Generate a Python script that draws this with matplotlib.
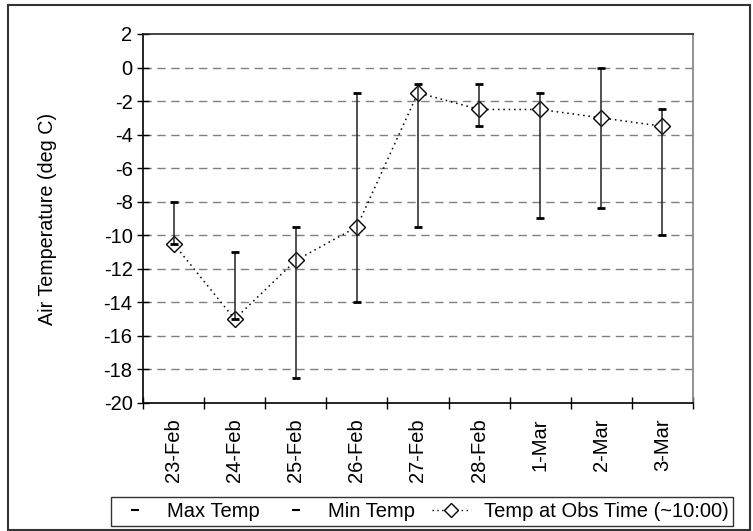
import matplotlib.pyplot as plt
from matplotlib.lines import Line2D
from matplotlib.patches import Rectangle
import numpy as np

plt.rcParams['font.family'] = ['Liberation Sans', 'DejaVu Sans']
plt.rcParams['axes.unicode_minus'] = False

# daily values (deg C)
dates = ['23-Feb', '24-Feb', '25-Feb', '26-Feb', '27-Feb', '28-Feb', '1-Mar', '2-Mar', '3-Mar']
max_temp = [-8, -11, -9.5, -1.5, -1, -1, -1.5, 0, -2.5]
min_temp = [-10.5, -15, -18.5, -14, -9.5, -3.5, -9, -8.4, -10]
obs_temp = [-10.5, -15, -11.5, -9.5, -1.5, -2.5, -2.5, -3, -3.5]

x = np.arange(len(dates))

fig = plt.figure(figsize=(7.53, 5.31), dpi=100)
ax = fig.add_axes([143/753, 1-403/531, 550/753, 369/531])

# obs temp, dotted with open diamonds
ax.plot(x, obs_temp, linestyle=(0, (1, 2.5)), color='black', lw=1.1, zorder=3)
ax.plot(x, obs_temp, linestyle='none', marker='D', markersize=8.5,
        markerfacecolor='white', markeredgecolor='black', markeredgewidth=1, zorder=4)

# high-low lines + max/min dash markers
ax.vlines(x, min_temp, max_temp, color='#222222', lw=1.1, zorder=5)
ax.plot(x, max_temp, linestyle='none', marker='_', markersize=6, mew=2, color='black', zorder=6)
ax.plot(x, min_temp, linestyle='none', marker='_', markersize=6, mew=2, color='black', zorder=6)

ax.set_xlim(-0.5, len(dates) - 0.5)
ax.set_ylim(-20, 2)
ax.set_yticks(np.arange(-20, 3, 2))
ax.set_xticks(np.arange(-0.5, len(dates), 1.0))
ax.set_xticklabels([])
ax.set_xticks(x, minor=True)
ax.set_xticklabels(dates, minor=True, rotation=90, fontsize=14.5)
ax.tick_params(axis='x', which='minor', length=0, pad=11)
ax.tick_params(axis='x', which='major', direction='inout', length=9, width=1)
ax.tick_params(axis='y', direction='inout', length=9, width=1, labelsize=14.5, pad=3)

for v in np.arange(-18, 1, 2):
    ax.axhline(v, color='#808080', lw=1, linestyle=(0, (6, 4)), zorder=1)

ax.spines['left'].set_color('black')
ax.spines['bottom'].set_color('black')
ax.spines['top'].set_color('#222222')
ax.spines['right'].set_color('#808080')
for s in ax.spines.values():
    s.set_linewidth(1.2)

ax.set_ylabel('Air Temperature (deg C)', fontsize=14.2)
ax.yaxis.set_label_coords(-0.156, 0.5)

handles = [
    Line2D([], [], linestyle='none', marker='_', markersize=6, mew=1.5, color='black'),
    Line2D([], [], linestyle='none', marker='_', markersize=6, mew=1.5, color='black'),
    Line2D([], [], linestyle=(0, (1, 2.5)), color='black', lw=1, marker='D', markersize=7,
           markerfacecolor='white', markeredgecolor='black'),
]
leg = fig.legend(handles, ['Max Temp', 'Min Temp', 'Temp at Obs Time (~10:00)'],
                 ncol=3, loc='center', bbox_to_anchor=((108+736)/2/753, 1-(496+527)/2/531),
                 fontsize=14.5, frameon=True, fancybox=False, handlelength=1.9,
                 columnspacing=0.85, handletextpad=0.65, borderpad=0.25)
leg.get_frame().set_edgecolor('black')
leg.get_frame().set_linewidth(1)

# outer chart frame
fig.patches.append(Rectangle((8/753, 1-530/531), 742/753, 525/531, transform=fig.transFigure,
                             fill=False, edgecolor='#333333', lw=1.5))

fig.savefig('out.png', dpi=100)
